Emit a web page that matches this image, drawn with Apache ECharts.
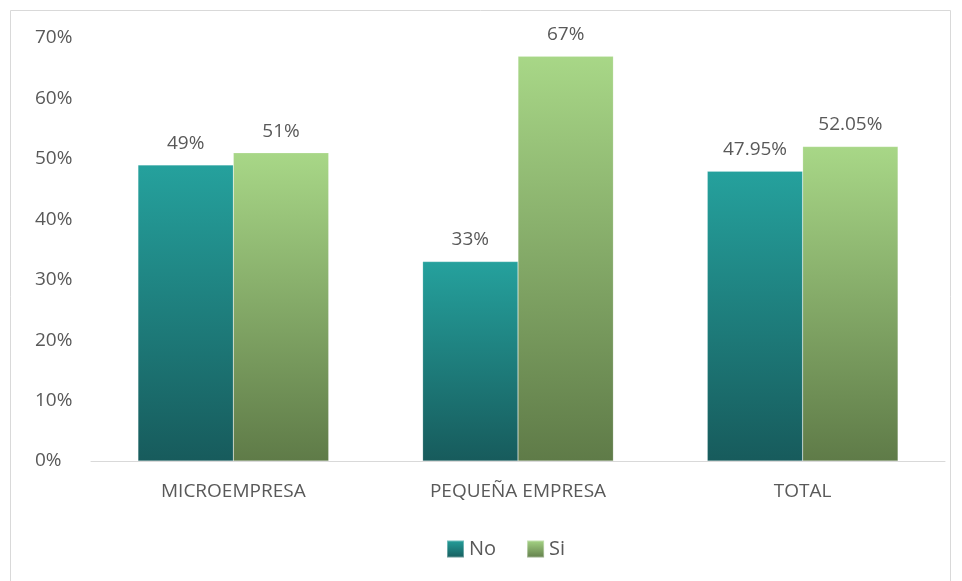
<!DOCTYPE html>
<html>
<head>
<meta charset="utf-8">
<script src="https://cdn.jsdelivr.net/npm/echarts@6/dist/echarts.min.js"></script>
<style>
  html, body { margin: 0; padding: 0; background: #fff; }
  #chart { width: 962px; height: 581px; }
</style>
</head>
<body>
<div id="chart"></div>
<script>
// Categories and series values (percent)
const categories = ['MICROEMPRESA', 'PEQUEÑA EMPRESA', 'TOTAL'];
const noValues = [49, 33, 47.95];
const siValues = [51, 67, 52.05];
const valueLabels = ['0%', '10%', '20%', '30%', '40%', '50%', '60%', '70%'];

const fontFamily = '"Open Sans", "Liberation Sans", sans-serif';
const textColor = '#595959';

function grad(top, bottom) {
  return new echarts.graphic.LinearGradient(0, 0, 0, 1, [
    { offset: 0, color: top },
    { offset: 1, color: bottom }
  ]);
}

function fmt(v) {
  return (Number.isInteger(v) ? v : v.toFixed(2)) + '%';
}

const chart = echarts.init(document.getElementById('chart'), null, { renderer: 'canvas' });
chart.setOption({
  animation: false,
  backgroundColor: '#ffffff',
  graphic: [{
    type: 'rect',
    shape: { x: 10.5, y: 10.5, width: 940, height: 600 },
    style: { fill: 'none', stroke: '#d9d9d9', lineWidth: 1 },
    silent: true
  }],
  grid: { left: 91, right: 17, top: 38, bottom: 120 },
  legend: {
    top: 534,
    left: 441,
    itemWidth: 17,
    itemHeight: 17,
    itemGap: 30,
    icon: 'rect',
    textStyle: { color: textColor, fontSize: 20, fontFamily: fontFamily },
    data: ['No', 'Si']
  },
  xAxis: {
    type: 'category',
    data: categories,
    axisLine: { lineStyle: { color: '#d9d9d9', width: 1 } },
    axisTick: { show: false },
    axisLabel: { color: textColor, fontSize: 19, fontFamily: fontFamily, margin: 21 }
  },
  yAxis: {
    type: 'value',
    min: 0,
    max: 70,
    interval: 10,
    splitLine: { show: false },
    axisLine: { show: false },
    axisTick: { show: false },
    axisLabel: {
      color: textColor,
      fontSize: 19,
      fontFamily: fontFamily,
      align: 'left',
      margin: 56,
      formatter: (v) => valueLabels[Math.round(v / 10)]
    }
  },
  series: [
    {
      name: 'No',
      type: 'bar',
      data: noValues,
      barGap: '0%',
      barCategoryGap: '33%',
      itemStyle: { color: grad('#25a19d', '#175b5c'), borderColor: 'rgba(255,255,255,0.35)', borderWidth: 0.5 },
      label: {
        show: true, position: 'top', distance: 12,
        color: textColor, fontSize: 19, fontFamily: fontFamily,
        formatter: (p) => fmt(p.value)
      }
    },
    {
      name: 'Si',
      type: 'bar',
      data: siValues,
      itemStyle: { color: grad('#a8d787', '#5f7b48'), borderColor: 'rgba(255,255,255,0.35)', borderWidth: 0.5 },
      label: {
        show: true, position: 'top', distance: 12,
        color: textColor, fontSize: 19, fontFamily: fontFamily,
        formatter: (p) => fmt(p.value)
      }
    }
  ]
});
</script>
</body>
</html>
